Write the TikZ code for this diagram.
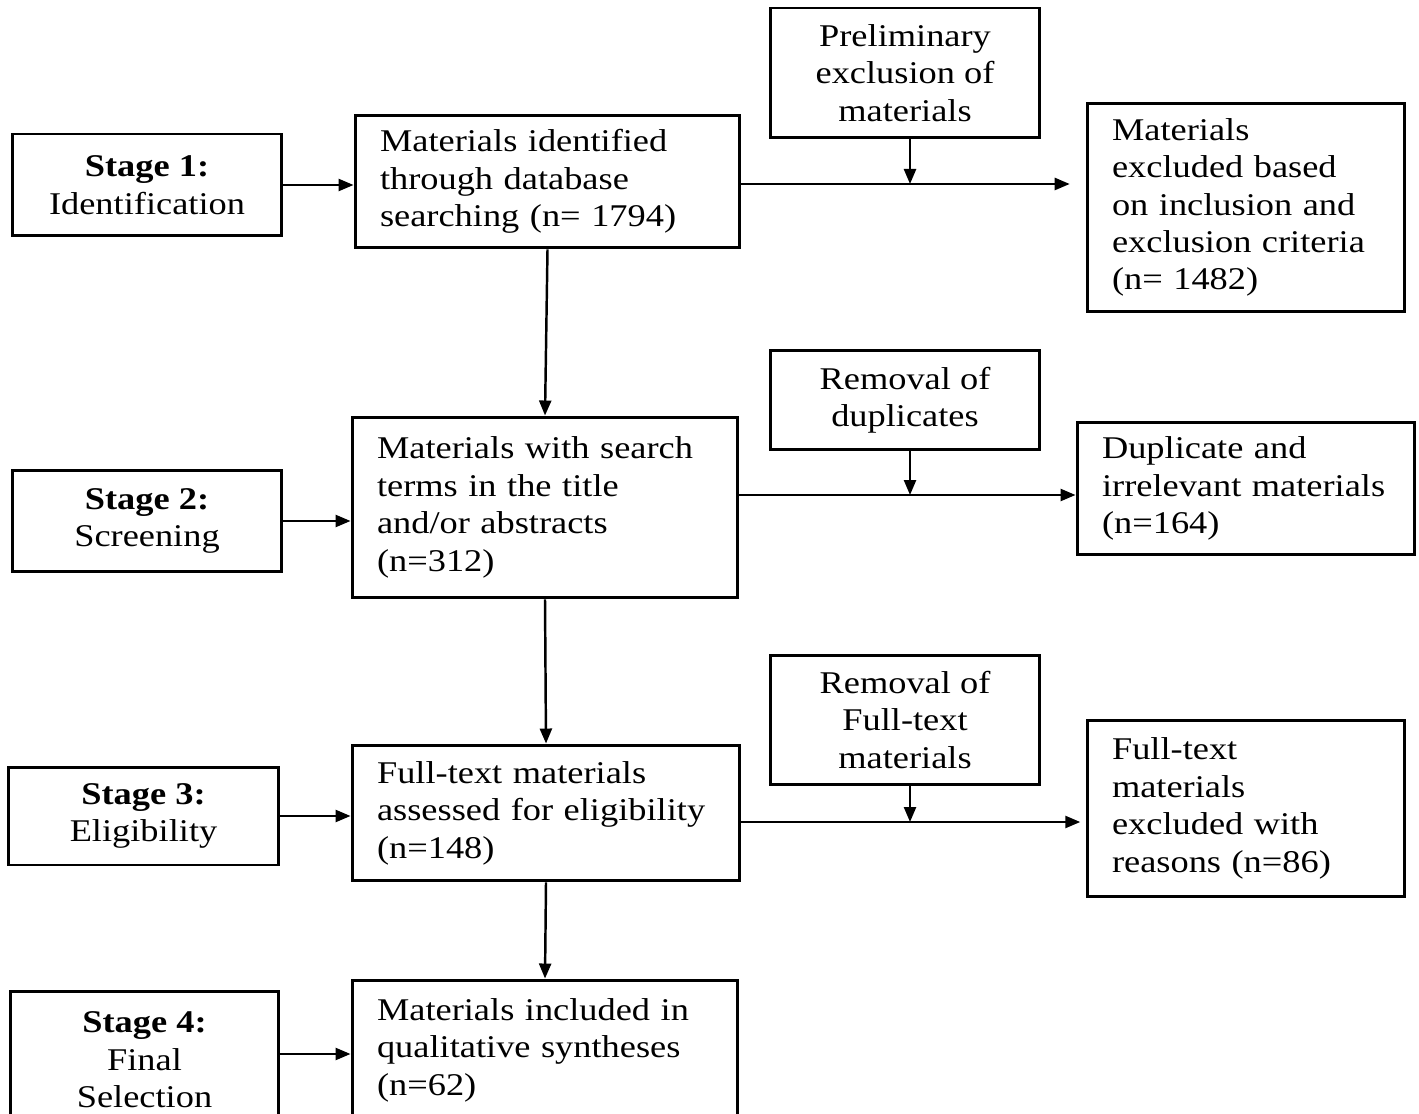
\documentclass[tikz,border=0pt]{standalone}
\usepackage{fontspec}
\setmainfont{Liberation Serif}[FakeStretch=1.15]
\usetikzlibrary{positioning,arrows.meta,calc}

\begin{document}
\begin{tikzpicture}[
  x=0.02cm, y=-0.02cm,
  font=\fontsize{18}{21.3}\selectfont,
  >={Triangle[length=3mm,width=2.4mm]},
  base/.style={draw, line width=1.7pt, fill=white, inner sep=0pt},
  stagebox/.style={base, minimum width=5.4cm, minimum height=2.04cm, align=center},
  matbox/.style={base, inner xsep=0.5cm, text width=6.7cm, align=left},
  actbox/.style={base, minimum width=5.4cm, align=center},
  outbox/.style={base, inner xsep=0.5cm, text width=5.36cm, align=left},
  flow/.style={->, line width=1.4pt}]

\useasboundingbox (0,0) rectangle (1419,1114);
\fill[white] (0,0) rectangle (1419,1114);
\clip (0,0) rectangle (1419,1114);

% ---------- stages ----------
\node[stagebox] (s1) at (147,185) {\textbf{Stage 1:}\\Identification};
\node[stagebox] (s2) at (147,521) {\textbf{Stage 2:}\\Screening};
\node[stagebox, minimum width=5.42cm, minimum height=1.96cm] (s3) at (143.5,816) {\textbf{Stage 3:}\\Eligibility};
\node[stagebox, minimum width=5.38cm, minimum height=2.76cm] (s4) at (144.5,1060) {\textbf{Stage 4:}\\Final\\Selection};

% ---------- materials ----------
\node[matbox, minimum height=2.66cm] (m1) at (547.5,181.5) {Materials identified\\through database\\searching (n= 1794)};
\node[matbox, text width=6.72cm, minimum height=3.62cm] (m2) at (545,507.5) {Materials with search\\terms in the title\\and/or abstracts\\(n=312)};
\node[matbox, text width=6.76cm, minimum height=2.72cm] (m3) at (546,813) {Full-text materials\\assessed for eligibility\\(n=148)};
\node[matbox, text width=6.72cm, minimum height=2.8cm] (m4) at (545,1050) {Materials included in\\qualitative syntheses\\(n=62)};

% ---------- removal steps ----------
\node[actbox, minimum height=2.6cm] (p1) at (905,73) {Preliminary\\exclusion of\\materials};
\node[actbox, minimum height=2.0cm] (p2) at (905,400) {Removal of\\duplicates};
\node[actbox, minimum height=2.6cm] (p3) at (905,720) {Removal of\\Full-text\\materials};

% ---------- excluded ----------
\node[outbox, minimum height=4.18cm] (e1) at (1246,207.5) {Materials\\excluded based\\on inclusion and\\exclusion criteria\\(n= 1482)};
\node[outbox, text width=5.76cm, minimum height=2.66cm] (e2) at (1246,488.5) {Duplicate and\\irrelevant materials\\(n=164)};
\node[outbox, minimum height=3.54cm] (e3) at (1246,808.5) {Full-text\\materials\\excluded with\\reasons (n=86)};

\coordinate (j1) at (910,184);
\coordinate (j2) at (910,495);
\coordinate (j3) at (910,822);

% ---------- edges ----------
\draw[flow] (s1.east) -- (s1.east -| m1.west);
\draw[flow] (s2.east) -- (s2.east -| m2.west);
\draw[flow] (s3.east) -- (s3.east -| m3.west);
\draw[flow] (s4.east |- 0,1054) -- (m4.west |- 0,1054);
\draw[flow] (m1.south) -- (m2.north);
\draw[flow] (m2.south) -- (m3.north);
\draw[flow] (m3.south) -- (m4.north);
\draw[flow, shorten >=9pt] (j1 -| m1.east) -- (j1 -| e1.west);
\draw[flow] (j2 -| m2.east) -- (j2 -| e2.west);
\draw[flow, shorten >=3pt] (j3 -| m3.east) -- (j3 -| e3.west);
\draw[flow] (p1.south -| j1) -- (j1);
\draw[flow] (p2.south -| j2) -- (j2);
\draw[flow] (p3.south -| j3) -- (j3);
\end{tikzpicture}
\end{document}
